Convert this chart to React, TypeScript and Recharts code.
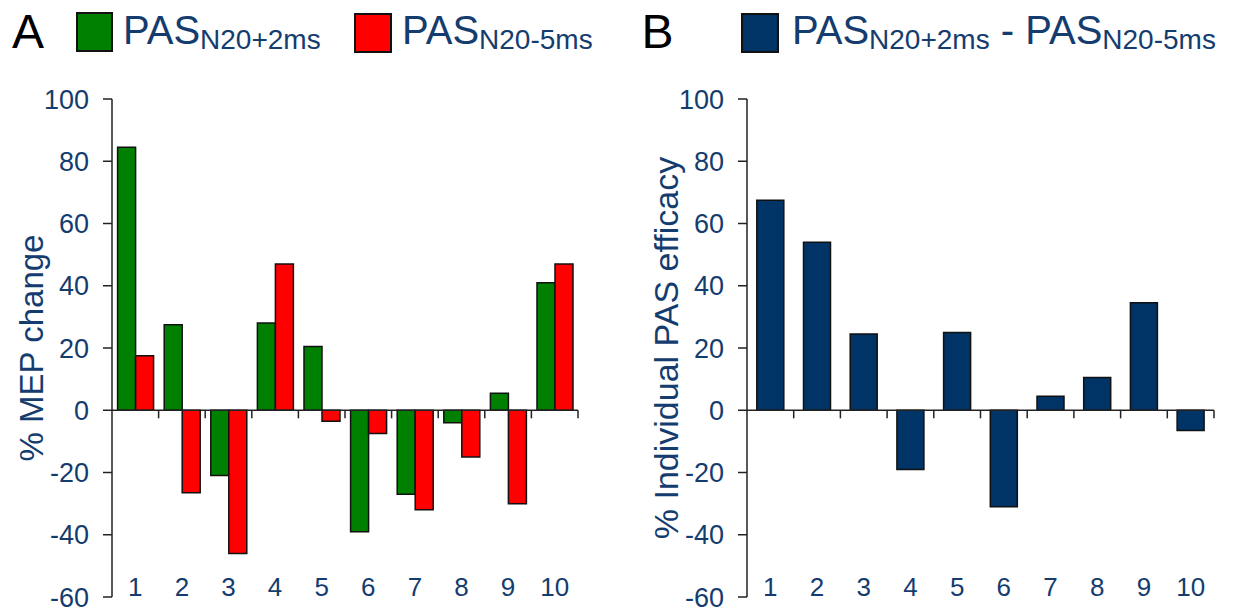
import React from 'react';
import { BarChart, Bar, XAxis, YAxis, ReferenceLine, Label } from 'recharts';

// ---------- data ----------
const subjects = [1, 2, 3, 4, 5, 6, 7, 8, 9, 10];
const pasPlus2 = [84.5, 27.5, -21, 28, 20.5, -39, -27, -4, 5.5, 41];
const pasMinus5 = [17.5, -26.5, -46, 47, -3.5, -7.5, -32, -15, -30, 47];
const efficacy = [67.5, 54, 24.5, -19, 25, -31, 4.5, 10.5, 34.5, -6.5];
const yTicks = [-60, -40, -20, 0, 20, 40, 60, 80, 100];
const yDomain = [-60, 100];
const xDomain = [0.5, 10.5];
const boundaries = subjects.map((s) => s + 0.5);

const dataA = subjects.map((s, i) => ({ subject: s, plus2: pasPlus2[i], minus5: pasMinus5[i] }));
const dataB = subjects.map((s, i) => ({ subject: s, eff: efficacy[i] }));

// ---------- style ----------
const FONT = '"Liberation Sans", Arial, Helvetica, sans-serif';
const TEXT = '#143c6e';
const AXIS = '#222';
const TICK_LEN = 2.6; // x tick mark length, in value units

const XTick = (props: any) => {
  const { x, y, payload } = props;
  return (
    <text x={x} y={y - 1} textAnchor="middle" fill={TEXT} fontSize={26} fontFamily={FONT}>
      {payload.value}
    </text>
  );
};

const makeYLabel = (text: string, size: number) => (props: any) => {
  const vb = props.viewBox || { x: 0, y: 0, width: 0, height: 0 };
  const cx = vb.x + vb.width - 69;
  const cy = vb.y + vb.height / 2;
  return (
    <text
      x={cx}
      y={cy}
      textAnchor="middle"
      fill={TEXT}
      fontSize={size}
      fontFamily={FONT}
      transform={`rotate(-90 ${cx} ${cy})`}
    >
      {text}
    </text>
  );
};

const commonY = (labelText: string, labelSize: number) => (
  <YAxis
    type="number"
    domain={yDomain}
    ticks={yTicks}
    interval={0}
    width={90}
    allowDataOverflow
    axisLine={{ stroke: AXIS, strokeWidth: 1.5 }}
    tickLine={{ stroke: AXIS, strokeWidth: 1.5 }}
    tickSize={9}
    tickMargin={14}
    tick={{ fill: TEXT, fontSize: 27, fontFamily: FONT }}
  >
    <Label content={makeYLabel(labelText, labelSize)} />
  </YAxis>
);

const commonX = (
  <XAxis
    type="number"
    dataKey="subject"
    domain={xDomain}
    ticks={subjects}
    interval={0}
    allowDataOverflow
    axisLine={false}
    tickLine={false}
    tickSize={0}
    tickMargin={0}
    height={1}
    tick={<XTick />}
  />
);

const zeroAxis = [
  <ReferenceLine key="zero" y={0} stroke={AXIS} strokeWidth={1.5} ifOverflow="visible" />,
  ...boundaries.map((b) => (
    <ReferenceLine
      key={`t${b}`}
      segment={[
        { x: b, y: 0 },
        { x: b, y: -TICK_LEN },
      ]}
      stroke={AXIS}
      strokeWidth={1.5}
      ifOverflow="visible"
    />
  )),
];

export default function App() {
  return (
    <div style={{ position: 'absolute', left: 0, top: 0, width: 1235, height: 613, background: '#fff', overflow: 'hidden' }}>
      <div style={{ position: 'absolute', left: 0, top: 0 }}>
        <BarChart
          width={600}
          height={613}
          data={dataA}
          margin={{ top: 99, right: 22, bottom: 15, left: 22 }}
          barCategoryGap="12%"
          barGap={0}
        >
          {commonX}
          {commonY('% MEP change', 33)}
          <Bar dataKey="plus2" fill="#008000" stroke="#111" strokeWidth={1.5} isAnimationActive={false} />
          <Bar dataKey="minus5" fill="#ff0000" stroke="#111" strokeWidth={1.5} isAnimationActive={false} />
          {zeroAxis}
        </BarChart>
      </div>
      <div style={{ position: 'absolute', left: 625, top: 0 }}>
        <BarChart
          width={610}
          height={613}
          data={dataB}
          margin={{ top: 99, right: 21, bottom: 15, left: 32 }}
          barCategoryGap="21%"
          barGap={0}
        >
          {commonX}
          {commonY('% Individual PAS efficacy', 34)}
          <Bar dataKey="eff" fill="#003366" stroke="#111" strokeWidth={1.5} isAnimationActive={false} />
          {zeroAxis}
        </BarChart>
      </div>
      <svg
        width={1235}
        height={70}
        style={{ position: 'absolute', left: 0, top: 0, pointerEvents: 'none' }}
        fontFamily={FONT}
      >
        <text x={12} y={48} fontSize={48} fill="#000">A</text>
        <rect x={77} y={13} width={35} height={38} fill="#008000" stroke="#111" strokeWidth={2} />
        <text x={123} y={43.5} fontSize={40} fill={TEXT}>
          PAS<tspan fontSize={28} dy={5}>N20+2ms</tspan>
        </text>
        <rect x={355} y={14} width={36} height={38} fill="#ff0000" stroke="#111" strokeWidth={2} />
        <text x={402} y={43.5} fontSize={40} fill={TEXT}>
          PAS<tspan fontSize={28} dy={5}>N20-5ms</tspan>
        </text>
        <text x={641.5} y={48} fontSize={48} fill="#000">B</text>
        <rect x={742} y={14} width={36} height={38} fill="#003366" stroke="#111" strokeWidth={2} />
        <text x={792} y={43.5} fontSize={40} fill={TEXT}>
          PAS<tspan fontSize={28} dy={5}>N20+2ms</tspan>
          <tspan fontSize={40} dy={-5}>{'\u00A0-\u00A0PAS'}</tspan>
          <tspan fontSize={28} dy={5}>N20-5ms</tspan>
        </text>
      </svg>
    </div>
  );
}
